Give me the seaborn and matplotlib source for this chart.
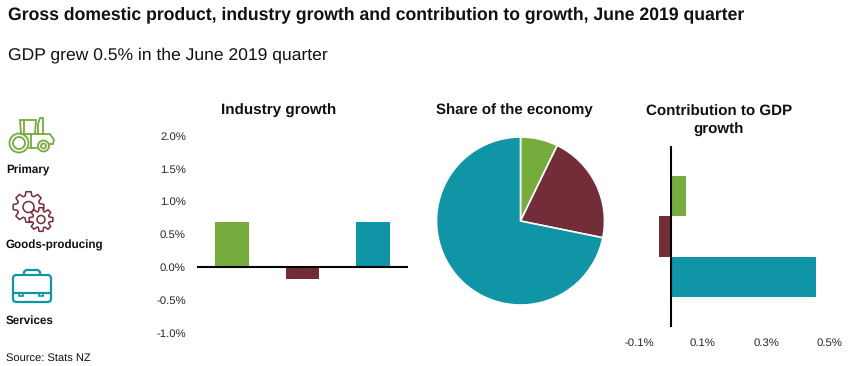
import matplotlib
matplotlib.use("Agg")

import matplotlib.pyplot as plt
import numpy as np
import pandas as pd
import seaborn as sns
from matplotlib.patches import Circle, FancyBboxPatch, Polygon, Rectangle

W, H = 850, 366

sectors = ["Primary", "Goods-producing", "Services"]
growth = [0.69, -0.18, 0.69]
share = [7.2, 21.0, 71.8]
contribution = [0.047, -0.038, 0.456]
growth_ticks = [-1.0, -0.5, 0.0, 0.5, 1.0, 1.5, 2.0]
contribution_ticks = [-0.1, 0.1, 0.3, 0.5]

GREEN = "#76AB3E"
MAROON = "#722D38"
TEAL = "#0F95A5"
palette = [GREEN, MAROON, TEAL]

sns.set_theme(style="white")
plt.rcParams["font.family"] = ["Liberation Sans", "DejaVu Sans"]
plt.rcParams["text.color"] = "#111111"
plt.rcParams["text.hinting"] = "none"


def px_axes(fig, left, top, right, bottom):
    """Axes placed from pixel edges, measured from the top left of the image."""
    return fig.add_axes([left / W, 1 - bottom / H, (right - left) / W, (bottom - top) / H])


def draw_gear(ax, cx, cy, r_out, r_in, r_hole, teeth, color, zorder):
    # each tooth is four corners, the outline goes round once
    step = 2 * np.pi / teeth
    pts = []
    for i in range(teeth):
        a = i * step
        for off, r in [(-0.30, r_in), (-0.16, r_out), (0.16, r_out), (0.30, r_in)]:
            pts.append((cx + r * np.cos(a + off * step * 1.3), cy + r * np.sin(a + off * step * 1.3)))
    ax.add_patch(Polygon(pts, closed=True, fc="white", ec=color, lw=1.1, joinstyle="round", zorder=zorder))
    ax.add_patch(Circle((cx, cy), r_hole, fill=False, ec=color, lw=1.1, zorder=zorder))


def draw_icons(ax):
    lw = 1.3
    # tractor
    ax.add_patch(Circle((19, 143), 9.5, fill=False, ec=GREEN, lw=lw))
    ax.add_patch(Circle((19, 143), 6, fill=False, ec=GREEN, lw=lw))
    ax.add_patch(Circle((43.5, 146), 5.5, fill=False, ec=GREEN, lw=lw))
    ax.add_patch(Circle((43.5, 146), 2.5, fill=False, ec=GREEN, lw=lw))
    ax.plot([20, 21, 35, 36, 36], [120, 134, 134, 120, 120], color=GREEN, lw=lw)
    ax.plot([20, 36], [120, 120], color=GREEN, lw=lw)
    ax.plot([24, 24], [120, 134], color=GREEN, lw=lw)
    ax.plot([36, 50, 54, 53, 49], [134, 134, 140, 144, 144], color=GREEN, lw=lw)
    ax.plot([29, 38], [148, 148], color=GREEN, lw=lw)
    ax.plot([38, 38, 40, 43, 43], [134, 124, 118, 118, 134], color=GREEN, lw=lw)
    ax.plot([31, 31], [134, 148], color=GREEN, lw=lw)
    # gears
    draw_gear(ax, 28.5, 207, 15.5, 11.5, 5.5, 8, MAROON, 2)
    draw_gear(ax, 41, 219.5, 12, 8.5, 4, 8, MAROON, 3)
    # briefcase
    ax.add_patch(FancyBboxPatch((13, 275), 38, 27, boxstyle="round,pad=0,rounding_size=3.5",
                                fill=False, ec=TEAL, lw=1.6))
    ax.plot([24, 24, 26, 38, 40, 40], [275, 272, 270, 270, 272, 275], color=TEAL, lw=1.6)
    ax.plot([13, 51], [293, 293], color=TEAL, lw=1.6)
    ax.add_patch(Rectangle((19.5, 293), 4, 3, fill=False, ec=TEAL, lw=1.2))
    ax.add_patch(Rectangle((39.5, 293), 4, 3, fill=False, ec=TEAL, lw=1.2))


df = pd.DataFrame({"sector": sectors, "growth": growth, "contribution": contribution})

fig = plt.figure(figsize=(W / 100, H / 100), dpi=100, facecolor="white")

# full image layer for the headings, side labels and icons
bg = fig.add_axes([0, 0, 1, 1])
bg.set_xlim(0, W)
bg.set_ylim(H, 0)
bg.axis("off")

bg.text(8, 15, "Gross domestic product, industry growth and contribution to growth, June 2019 quarter",
        fontsize=12.67, fontweight="bold", va="center", ha="left")
bg.text(8, 55, "GDP grew 0.5% in the June 2019 quarter", fontsize=12.6, va="center", ha="left")
for name, y in zip(sectors, [170, 245, 321]):
    bg.text(6, y, name, fontsize=8.4, fontweight="bold", va="center", ha="left")
bg.text(6, 358, "Source: Stats NZ", fontsize=8, va="center", ha="left")
bg.text(279, 111, "Industry growth", fontsize=11, fontweight="bold", va="center", ha="center")
bg.text(514.5, 110, "Share of the economy", fontsize=10.85, fontweight="bold", va="center", ha="center")
bg.text(719, 121, "Contribution to GDP\ngrowth", fontsize=10.9, fontweight="bold", va="center",
        ha="center", linespacing=1.3)
draw_icons(bg)

# industry growth columns
ax1 = px_axes(fig, 197, 135.5, 408, 333)
sns.barplot(data=df, x="sector", y="growth", hue="sector", palette=palette, saturation=1,
            width=0.48, legend=False, linewidth=0, ax=ax1)
ax1.set_ylim(-1, 2)
ax1.set_yticks(growth_ticks)
ax1.set_yticklabels([f"{t:.1f}%" for t in growth_ticks], fontsize=8.2)
ax1.tick_params(axis="y", length=0, pad=8)
ax1.set_xticks([])
ax1.set_xlabel("")
ax1.set_ylabel("")
ax1.axhline(0, color="black", lw=1.5)
sns.despine(ax=ax1, left=True, bottom=True)
ax1.patch.set_alpha(0)

# share of the economy
ax2 = px_axes(fig, 436, 137, 605, 305)
ax2.pie(share, colors=palette, startangle=90, counterclock=False, radius=1.0,
        wedgeprops={"edgecolor": "white", "linewidth": 1.2})
ax2.set_xlim(-1.005, 1.005)
ax2.set_ylim(-1.0, 1.0)

# contribution bars
ax3 = px_axes(fig, 639, 146, 830, 327)
sns.barplot(data=df, y="sector", x="contribution", hue="sector", palette=palette, saturation=1,
            width=1.0, legend=False, linewidth=0, ax=ax3)
ax3.set_xlim(-0.1, 0.5)
ax3.set_ylim(3.26, -1.26)
ax3.set_xticks(contribution_ticks)
ax3.set_xticklabels([f"{t:.1f}%" for t in contribution_ticks], fontsize=8.2)
ax3.tick_params(axis="x", length=0, pad=8)
ax3.set_yticks([])
ax3.set_xlabel("")
ax3.set_ylabel("")
ax3.axvline(0, color="black", lw=1.5)
sns.despine(ax=ax3, left=True, bottom=True)
ax3.patch.set_alpha(0)

fig.savefig("out.png", dpi=100, facecolor="white")
plt.close(fig)
